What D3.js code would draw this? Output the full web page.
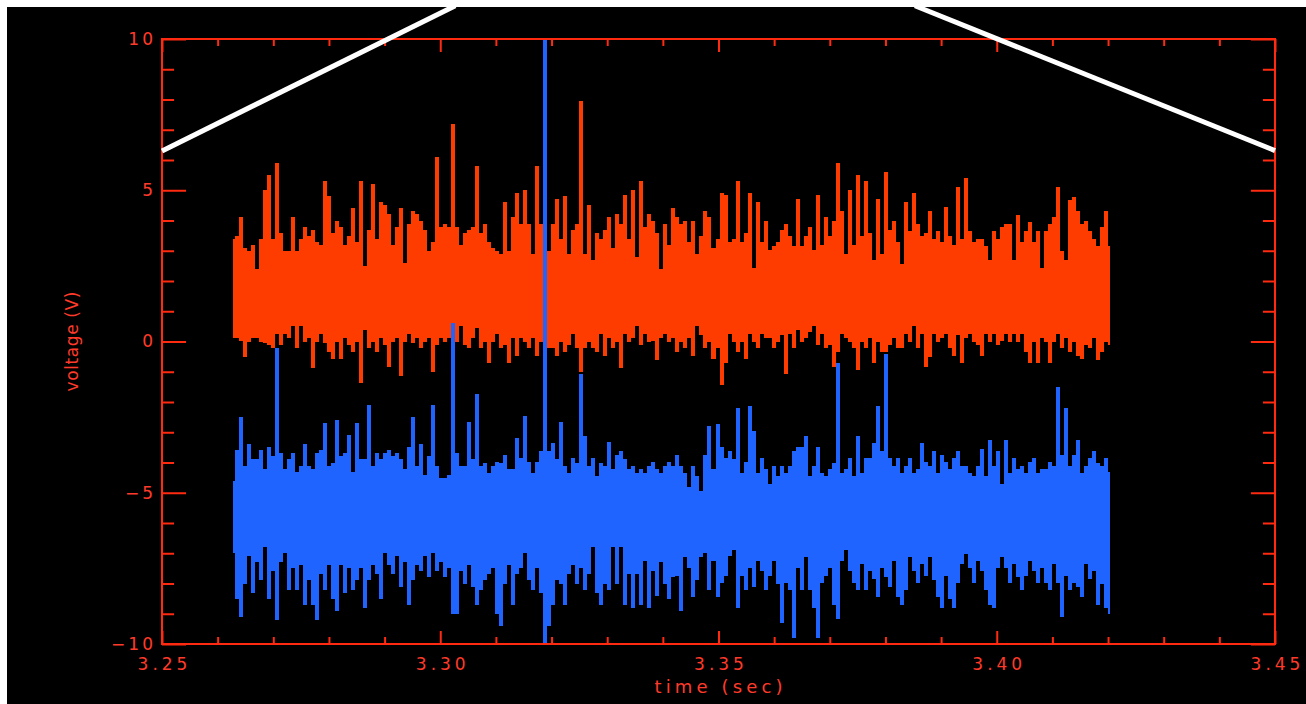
<!DOCTYPE html>
<html>
<head>
<meta charset="utf-8">
<script src="https://cdn.jsdelivr.net/npm/d3@7"></script>
<style>
  body { margin: 0; background: #fff; }
  svg { display: block; }
</style>
</head>
<body>
<div id="chart"></div>
<script>
let width = 1306, height = 704
let margin = {top: 39, right: 31, bottom: 60, left: 162}

let timeStart = 3.2628, timeEnd = 3.4203

let orangeHigh = [
  3.4, 3.5, 4.1, 3.1, 3.0, 3.2, 2.4, 3.4, 5.0, 5.5,
  3.4, 5.9, 3.6, 3.0, 3.0, 4.1, 3.0, 3.4, 3.8, 3.5,
  3.7, 3.3, 3.2, 5.3, 4.8, 3.6, 4.0, 3.8, 3.2, 3.5,
  4.4, 3.3, 5.3, 2.5, 3.7, 5.2, 3.4, 4.6, 4.5, 4.2,
  3.2, 3.8, 4.4, 2.6, 3.9, 4.3, 4.2, 4.0, 3.7, 3.0,
  3.3, 6.1, 3.8, 3.9, 3.8,
  7.2, 3.8, 3.2, 3.6, 3.7,
  3.8, 5.8, 3.6, 3.9, 3.3, 3.1, 3.0, 2.9, 4.6, 3.0,
  4.1, 4.9, 3.9, 5.0, 3.9, 2.9, 5.8, 3.9, 3.4, 3.0,
  3.9, 4.7, 3.4, 4.8, 2.9, 3.7, 3.9, 7.95, 2.9, 4.5,
  2.7, 3.6, 3.4, 3.7, 4.1, 3.1, 4.2, 3.9, 4.85, 3.4,
  5.0, 2.8, 5.3, 3.8, 4.2, 4.0, 3.6, 2.4, 3.9, 3.2,
  4.4,
  4.1, 3.9, 4.0, 3.3, 4.0, 2.9, 3.5, 4.3, 4.1,
  3.1, 3.4, 4.9, 4.85, 3.3, 3.4, 5.3, 3.3, 3.6, 4.9,
  2.44, 4.6, 3.3, 4.0, 3.04, 3.16, 3.3, 3.7, 3.9, 3.5,
  3.16, 4.7, 3.16, 3.5, 3.8, 3.04, 4.85, 3.2, 4.1, 3.5,
  4.0, 5.9, 4.3, 2.9, 5.0, 3.2, 5.5, 3.5, 5.3, 3.6,
  2.7, 4.7, 2.9, 5.6, 3.7, 4.0, 3.3,
  2.55, 4.6, 3.64,
  4.9, 3.9, 3.5, 3.6, 4.3, 3.4, 3.64, 3.28, 4.43, 3.5,
  3.2, 5.1, 3.4, 5.4, 3.64, 3.3, 3.4, 3.4, 3.16, 2.68,
  3.64, 3.4, 3.77, 3.9, 3.9, 2.68, 4.19, 3.28, 3.64, 3.95,
  3.28, 3.64, 2.44, 3.64, 3.89, 4.13, 5.1, 3.0, 2.68, 4.67,
  4.79, 4.3, 3.89, 4.0, 3.64, 3.4, 3.16, 3.8, 4.31, 3.16
]

let orangeLow = [
  0.13, 0.13, 0.01, -0.5, 0.0, 0.13, 0.1, 0.0, -0.05, -0.1,
  -0.23, 0.26, -0.1, 0.26, 0.13, 0.5, -0.23, 0.5, 0.0, 0.1,
  -0.89, 0.0, 0.26, -0.05, -0.35, -0.59, 0.0, -0.59, 0.13, -0.1,
  -0.35, 0.0, -1.38, 0.38, -0.23, 0.0, -0.35, 0.13, -0.1, -0.83,
  0.0, 0.13, -1.13, 0.0, 0.26, -0.05, 0.13, -0.23, 0.0, 0.13,
  -1.0, -0.1, 0.13, 0.0, 0.1,
  0.5, 0.0, 0.5, -0.1, -0.23,
  0.13, 0.45, -0.23, 0.0, -0.7, 0.0, 0.26, -0.23, -0.1, -0.7,
  0.13, -0.47, 0.13, 0.0, -0.23, 0.13, -0.47, 0.0, 0.0, -0.23,
  -0.23, -0.47, 0.0, -0.35, -0.1, 0.26, -0.23, -1.0, -0.23, 0.0,
  -0.2, -0.35, 0.26, -0.47, 0.1, -0.23, 0.0, -0.89, 0.26, 0.0,
  0.1, 0.5, -0.1, 0.26, 0.0, 0.01, -0.6, 0.13, 0.26, 0.0,
  0.1,
  -0.35, 0.0, -0.23, 0.13, -0.47, 0.5, 0.2, -0.23, 0.0,
  -0.59, -0.2, -1.45, -0.7, 0.26, 0.0, -0.35, 0.0, -0.59, 0.26,
  0.0, -0.23, 0.26, 0.13, 0.1, -0.23, 0.0, 0.2, -1.07, 0.26,
  -0.23, 0.38, 0.0, 0.13, 0.3, 0.5, -0.1, 0.26, -0.23, -0.1,
  -0.83, -0.35, 0.26, 0.13, 0.0, -0.23, -0.95, 0.0, -0.23, 0.1,
  -0.71, 0.0, -0.35, -0.35, -0.11, 0.13, -0.23,
  -0.23, 0.26, 0.0,
  0.5, -0.23, 0.26, -0.83, -0.5, 0.26, 0.0, 0.13, 0.26, -0.23,
  -0.47, 0.2, -0.7, 0.13, 0.26, 0.0, -0.11, -0.47, 0.26, 0.0,
  0.26, -0.11, 0.01, 0.26, 0.0, 0.26, 0.0, 0.26, -0.35, -0.71,
  0.0, -0.71, 0.13, 0.0, -0.71, 0.0, 0.26, -0.23, 0.13, -0.35,
  0.0, -0.47, -0.59, -0.11, -0.2, 0.13, -0.6, -0.35, 0.0, -0.11
]

let blueHigh = [
  -4.6, -3.6, -2.5, -4.1, -3.4, -3.9, -3.9, -3.6, -4.2, -3.5,
  -3.8, -0.23, -3.7, -4.2, -3.9, -3.7, -4.3, -4.1, -3.4, -4.1,
  -4.2, -3.7, -3.6, -2.7, -4.1, -4.0, -2.6, -3.8, -3.7, -3.1,
  -4.3, -2.7, -3.9, -3.9, -2.1, -4.1, -3.7, -3.9, -3.7, -3.6,
  -3.8, -3.7, -3.9, -4.2, -3.5, -2.5, -4.1, -3.4, -4.4, -3.8,
  -2.1, -4.1, -4.5, -4.5, -4.4,
  0.62, -3.7, -4.1, -4.1, -2.65,
  -3.9, -1.74, -4.1, -4.0, -4.34, -4.1, -3.98, -4.0, -3.74, -4.2,
  -4.22, -3.19, -3.86, -2.47, -3.98, -4.34, -3.98, -3.62, 10, -3.62,
  -3.37, -3.9, -2.65, -4.1, -4.34, -3.86, -4.0, -1.07, -3.13, -4.1,
  -3.86, -4.46, -4.0, -4.1, -3.31, -4.22, -3.74, -3.62, -3.9, -4.22,
  -4.1, -4.34, -4.2, -4.34, -4.1, -3.98, -4.2, -4.34, -4.1, -3.98,
  -4.1,
  -3.74, -4.1, -4.34, -4.8, -4.1, -4.46, -4.95, -3.74, -2.8,
  -4.22, -2.74, -3.5, -3.86, -3.62, -3.9, -2.2, -4.34, -3.98, -2.13,
  -2.95, -4.34, -3.86, -4.2, -4.71, -4.1, -4.46, -4.1, -4.34, -4.1,
  -3.62, -3.5, -3.5, -3.13, -4.46, -4.1, -3.5, -4.34, -4.46, -4.22,
  -4.0, -0.7, -4.34, -4.22, -3.86, -4.46, -3.13, -4.34, -3.86, -3.86,
  -3.37, -2.13, -3.62, -0.4, -3.86, -4.1, -3.86,
  -4.34, -4.1, -3.86,
  -4.34, -4.22, -3.37, -3.98, -4.1, -3.62, -4.34, -3.74, -3.98, -4.2,
  -3.86, -3.62, -4.1, -4.1, -4.34, -4.46, -4.1, -3.55, -4.46, -3.25,
  -4.1, -3.62, -4.71, -3.25, -4.34, -3.86, -4.22, -4.1, -4.34, -3.98,
  -3.86, -4.34, -4.2, -4.22, -3.98, -4.1, -1.5, -3.74, -2.2, -4.1,
  -3.74, -3.25, -4.34, -4.1, -3.86, -3.62, -4.0, -4.1, -3.86, -4.3
]

let blueLow = [
  -7.0, -8.5, -9.1, -8.0, -7.1, -8.3, -7.3, -7.9, -6.8, -8.5,
  -7.6, -9.2, -7.3, -7.0, -8.2, -7.5, -8.2, -7.4, -8.7, -7.9,
  -8.7, -9.2, -7.7, -8.2, -7.4, -8.5, -8.9, -7.4, -8.3, -7.5,
  -8.2, -7.9, -7.5, -8.8, -7.9, -7.4, -7.7, -8.5, -7.0, -7.4,
  -7.7, -7.1, -8.1, -7.3, -8.7, -7.9, -7.4, -7.6, -7.1, -7.8,
  -7.0, -7.6, -7.3, -7.8, -7.5,
  -9.0, -9.0, -7.6, -8.0, -7.4,
  -8.1, -8.7, -8.2, -7.9, -7.7, -7.5, -9.0, -9.4, -8.0, -7.4,
  -8.7, -7.7, -7.5, -7.0, -7.9, -8.2, -7.5, -8.3, -10, -9.4,
  -8.7, -7.9, -8.0, -8.7, -7.7, -7.4, -8.0, -7.5, -8.2, -7.7,
  -6.8, -8.3, -8.7, -8.0, -8.2, -6.8, -8.0, -6.8, -8.7, -7.7,
  -8.8, -7.7, -8.7, -7.25, -8.8, -7.6, -8.4, -7.3, -8.0, -8.5,
  -7.8,
  -7.74, -8.9, -7.13, -7.49, -8.46, -7.9, -7.13, -7.0, -8.22,
  -7.25, -8.46, -7.98, -7.74, -7.1, -6.9, -8.82, -7.74, -8.22, -7.49,
  -8.1, -7.25, -7.6, -8.22, -7.74, -7.25, -8.0, -9.3, -7.98, -8.2,
  -9.8, -7.49, -8.22, -7.13, -8.22, -8.82, -9.8, -7.98, -7.74, -7.5,
  -8.7, -9.19, -7.25, -6.9, -7.6, -7.98, -8.22, -7.37, -8.22, -7.6,
  -7.86, -8.46, -7.49, -7.8, -8.1, -7.25, -8.46,
  -8.7, -8.22, -7.13,
  -7.6, -7.98, -7.37, -7.74, -7.13, -7.9, -8.46, -8.82, -7.74, -8.5,
  -8.82, -7.98, -7.37, -7.01, -7.5, -7.98, -7.25, -7.6, -8.22, -8.7,
  -8.82, -7.49, -7.13, -7.5, -7.98, -7.37, -7.8, -8.22, -7.74, -7.25,
  -7.6, -7.98, -7.49, -7.98, -8.22, -7.37, -7.98, -9.1, -7.74, -8.22,
  -7.98, -8.1, -8.46, -7.37, -7.86, -7.6, -8.7, -8.0, -8.82, -9.0
]

let xMajorTicks = [3.25, 3.30, 3.35, 3.40, 3.45]
let yMajorTicks = [-10, -5, 0, 5, 10]

// the two white marker lines drawn over the plot (time, volts)
let markerLines = [
  [{t: 3.25, v: 6.3}, {t: 3.3027, v: 11.1}],
  [{t: 3.3853, v: 11.1}, {t: 3.45, v: 6.31}]
]

let axisColor = '#ff2a10'
let labelColor = '#ff3a2a'

let svg = d3.select('#chart')
  .append('svg')
  .attr('width', width)
  .attr('height', height)

// white strip on top and left, black page elsewhere
svg.append('rect').attr('width', width).attr('height', height).attr('fill', '#fff')
svg.append('rect').attr('x', 7).attr('y', 7)
  .attr('width', width - 7).attr('height', height - 7).attr('fill', '#000')

let x = d3.scaleLinear().domain([3.25, 3.45]).range([margin.left, width - margin.right])
let y = d3.scaleLinear().domain([-10, 10]).range([height - margin.bottom, margin.top])

let step = (timeEnd - timeStart) / (orangeHigh.length - 1)
let orange = orangeHigh.map((hi, i) => ({t: timeStart + i * step, hi: hi, lo: orangeLow[i]}))
let blue = blueHigh.map((hi, i) => ({t: timeStart + i * step, hi: hi, lo: blueLow[i]}))

let band = d3.area()
  .x(d => x(d.t))
  .y0(d => y(d.lo))
  .y1(d => y(d.hi))
  .curve(d3.curveStep)

svg.append('path').datum(orange)
  .attr('d', band)
  .attr('fill', '#ff3c00')
  .attr('shape-rendering', 'crispEdges')

svg.append('path').datum(blue)
  .attr('d', band)
  .attr('fill', '#1f64ff')
  .attr('shape-rendering', 'crispEdges')

// axes: ticks point inward, minor ticks every 0.01 s and every 1 V
let xMinor = d3.range(3.25, 3.4501, 0.01).filter(t => !xMajorTicks.some(m => Math.abs(m - t) < 1e-6))
let yMinor = d3.range(-10, 10.01, 1).filter(v => v % 5 !== 0)
let plotBottom = height - margin.bottom
let plotRight = width - margin.right

function styleAxis (g) {
  g.select('.domain').remove()
  g.selectAll('line').attr('stroke', axisColor).attr('stroke-width', 2)
  g.selectAll('text')
    .attr('fill', labelColor)
    .style('font-family', '"DejaVu Sans", sans-serif')
    .style('font-size', '17px')
}

svg.append('g').attr('transform', 'translate(0,' + plotBottom + ')')
  .call(d3.axisBottom(x).tickValues(xMajorTicks).tickSize(-13).tickPadding(14)
    .tickFormat(d3.format('.2f')))
  .call(styleAxis)
  .selectAll('text').style('letter-spacing', '4px').attr('dx', '2px')

svg.append('g').attr('transform', 'translate(0,' + plotBottom + ')')
  .call(d3.axisBottom(x).tickValues(xMinor).tickSize(-7).tickFormat(''))
  .call(styleAxis)

svg.append('g').attr('transform', 'translate(0,' + margin.top + ')')
  .call(d3.axisTop(x).tickValues(xMajorTicks).tickSize(-13).tickFormat(''))
  .call(styleAxis)

svg.append('g').attr('transform', 'translate(0,' + margin.top + ')')
  .call(d3.axisTop(x).tickValues(xMinor).tickSize(-7).tickFormat(''))
  .call(styleAxis)

svg.append('g').attr('transform', 'translate(' + margin.left + ',0)')
  .call(d3.axisLeft(y).tickValues(yMajorTicks).tickSize(-24).tickPadding(9))
  .call(styleAxis)
  .selectAll('text').style('letter-spacing', '3px').attr('dx', '3px')

svg.append('g').attr('transform', 'translate(' + margin.left + ',0)')
  .call(d3.axisLeft(y).tickValues(yMinor).tickSize(-12).tickFormat(''))
  .call(styleAxis)

svg.append('g').attr('transform', 'translate(' + plotRight + ',0)')
  .call(d3.axisRight(y).tickValues(yMajorTicks).tickSize(-24).tickFormat(''))
  .call(styleAxis)

svg.append('g').attr('transform', 'translate(' + plotRight + ',0)')
  .call(d3.axisRight(y).tickValues(yMinor).tickSize(-12).tickFormat(''))
  .call(styleAxis)

// frame
svg.append('rect')
  .attr('x', margin.left).attr('y', margin.top)
  .attr('width', plotRight - margin.left)
  .attr('height', plotBottom - margin.top)
  .attr('fill', 'none')
  .attr('stroke', axisColor)
  .attr('stroke-width', 2)

// axis titles
svg.append('text')
  .attr('x', (margin.left + plotRight) / 2)
  .attr('y', 693)
  .attr('text-anchor', 'middle')
  .attr('textLength', 128)
  .attr('lengthAdjust', 'spacing')
  .attr('fill', labelColor)
  .style('font-family', '"DejaVu Sans", sans-serif')
  .style('font-size', '18px')
  .text('time (sec)')

svg.append('text')
  .attr('transform', 'translate(78,' + y(0) + ') rotate(-90)')
  .attr('text-anchor', 'middle')
  .attr('textLength', 100)
  .attr('lengthAdjust', 'spacing')
  .attr('fill', labelColor)
  .style('font-family', '"DejaVu Sans", sans-serif')
  .style('font-size', '17px')
  .text('voltage (V)')

// white marker lines
let markerLine = d3.line().x(d => x(d.t)).y(d => y(d.v))
svg.selectAll('.marker')
  .data(markerLines)
  .enter().append('path')
  .attr('class', 'marker')
  .attr('d', markerLine)
  .attr('stroke', '#fff')
  .attr('stroke-width', 5)
  .attr('fill', 'none')

// keep the white strip on top
svg.append('rect').attr('width', width).attr('height', 7).attr('fill', '#fff')
</script>
</body>
</html>
